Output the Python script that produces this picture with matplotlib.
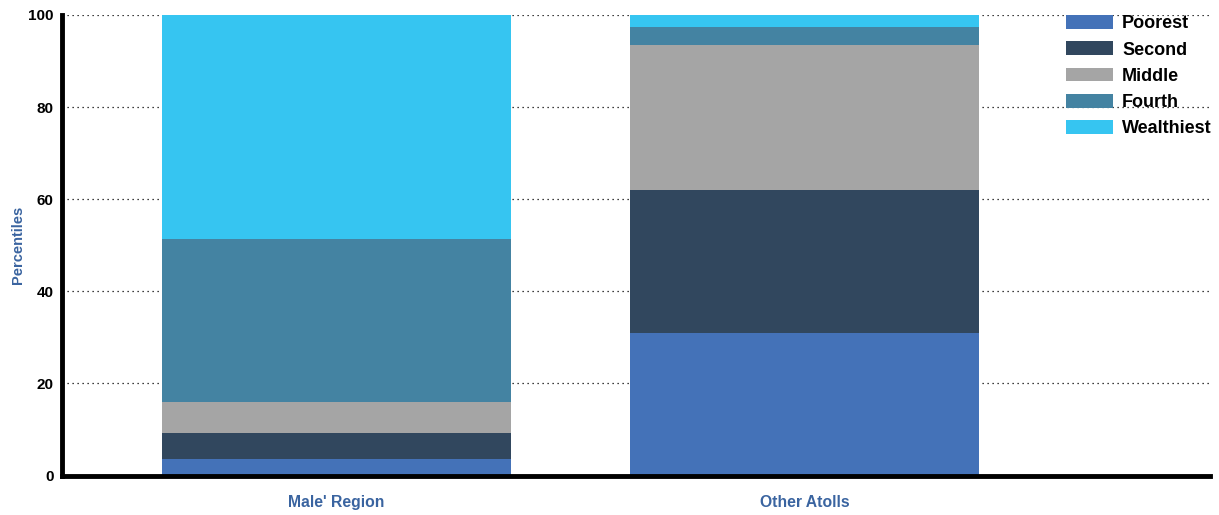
import numpy as np
import matplotlib.pyplot as plt

regions = ["Male' Region", "Other Atolls"]
quintiles = ["Poorest", "Second", "Middle", "Fourth", "Wealthiest"]
poorest = [3.6, 30.9]
second = [5.7, 31.2]
middle = [6.7, 31.3]
fourth = [35.3, 3.9]
wealthiest = [48.7, 2.7]
colors = ['#4472B8', '#31475E', '#A5A5A5', '#4483A2', '#36C5F1']

plt.rcParams['font.family'] = ['Liberation Sans', 'DejaVu Sans']

fig = plt.figure(figsize=(12.19, 5.15), dpi=100)
ax = fig.add_axes([62 / 1219, 39.5 / 515, 1148 / 1219, 460.5 / 515])

x = np.arange(len(regions))
bottom = np.zeros(len(regions))
handles = []
for name, vals, c in zip(quintiles, [poorest, second, middle, fourth, wealthiest], colors):
    b = ax.bar(x, vals, width=0.746, bottom=bottom, color=c, label=name, zorder=2)
    handles.append(b)
    bottom += np.array(vals)

ax.set_xlim(-0.587, 1.867)
ax.set_ylim(0, 100)
ax.set_yticks([0, 20, 40, 60, 80, 100])
ax.set_xticks(x)
ax.set_xticklabels(regions, color='#3A64A0', fontweight='bold', fontsize=11.3)
for t in ax.get_yticklabels():
    t.set_fontweight('bold')
    t.set_fontsize(11)
ax.tick_params(axis='both', length=0)
ax.tick_params(axis='x', pad=14)
ax.tick_params(axis='y', pad=6)
ax.set_ylabel('Percentiles', color='#3A64A0', fontweight='bold', fontsize=10.5, labelpad=2)

ax.grid(axis='y', linestyle=(0, (1, 3)), color='black', linewidth=0.9, zorder=1)
for s in ['top', 'right']:
    ax.spines[s].set_visible(False)
for s in ['left', 'bottom']:
    ax.spines[s].set_linewidth(3.5)
    ax.spines[s].set_color('black')

fig.legend(handles=handles, labels=quintiles, loc='upper left',
           bbox_to_anchor=(1050 / 1219, 1 + 1 / 515), frameon=False,
           prop={'weight': 'bold', 'size': 13}, handlelength=2.6,
           handleheight=0.8, labelspacing=0.5, handletextpad=0.5)

plt.savefig('out.png', dpi=100)
